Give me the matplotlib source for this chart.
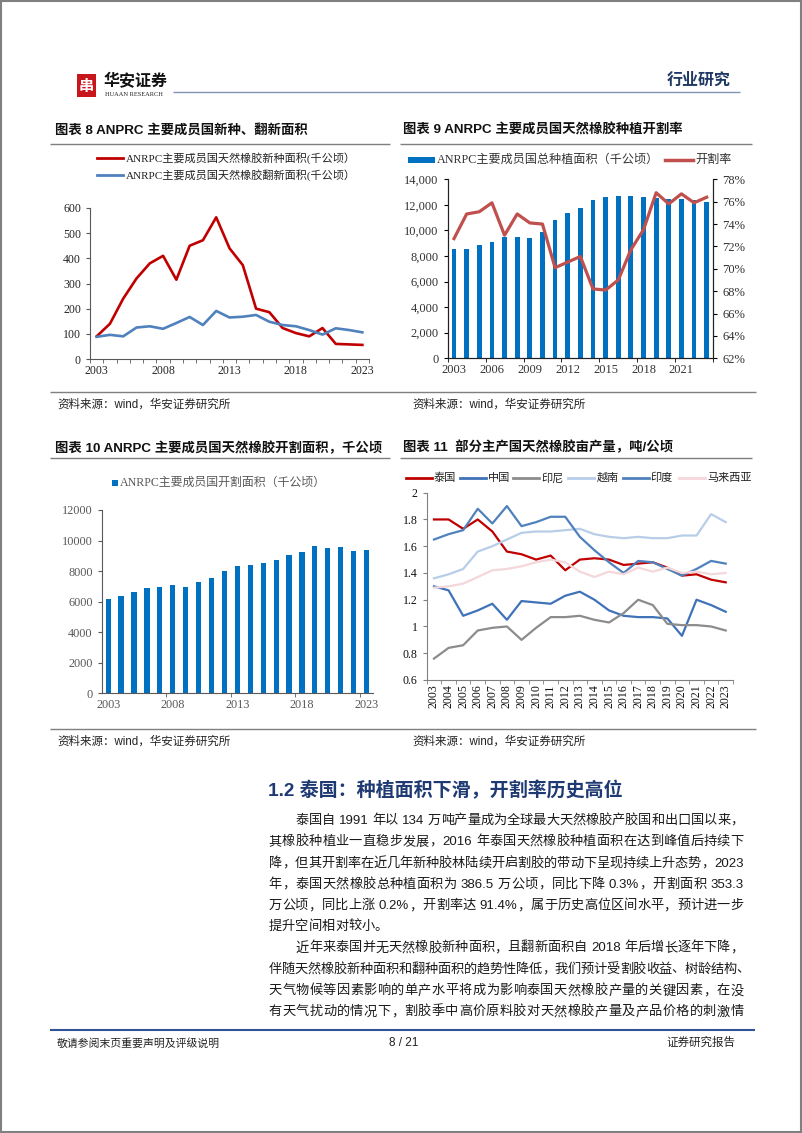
import matplotlib
matplotlib.use('Agg')
import matplotlib.pyplot as plt
import numpy as np
from matplotlib.patches import Rectangle
from matplotlib.ticker import FuncFormatter

plt.rcParams['font.family'] = ['Liberation Serif', 'Noto Sans CJK SC']
plt.rcParams['axes.unicode_minus'] = False

W, H = 802, 1133
SANS = ['Liberation Sans', 'Noto Sans CJK SC']
SERIF = ['Liberation Serif', 'Noto Sans CJK SC']

years = list(range(2003, 2024))

# 图表8 新种/翻新面积（千公顷）
new_area = [90, 140, 240, 320, 380, 410, 315, 450, 472, 563, 440, 373, 200,
            186, 123, 103, 90, 123, 60, 58, 56]
renew_area = [88, 96, 90, 125, 130, 120, 143, 167, 135, 191, 165, 168, 175,
              148, 135, 130, 115, 97, 122, 115, 106]

# 图表9 总种植面积（千公顷）与开割率（%）
total_area = [8520, 8550, 8840, 9120, 9510, 9460, 9410, 9880, 10820, 11340,
              11730, 12410, 12590, 12670, 12670, 12620, 12540, 12490, 12490,
              12380, 12250]
tap_rate = [72.7, 74.9, 75.1, 75.9, 73.0, 74.9, 74.1, 74.0, 70.1, 70.6, 71.1,
            68.2, 68.1, 69.0, 71.7, 73.5, 76.8, 75.8, 76.7, 75.9, 76.4]

# 图表10 开割面积（千公顷）
tapped_area = [6200, 6400, 6620, 6900, 6950, 7070, 6980, 7290, 7580, 8020,
               8330, 8430, 8560, 8720, 9060, 9250, 9630, 9480, 9560, 9290, 9350]

# 图表11 单产（吨/公顷）
countries = ['泰国', '中国', '印尼', '越南', '印度', '马来西亚']
yield_thailand = [1.80, 1.80, 1.73, 1.80, 1.71, 1.56, 1.54, 1.50, 1.53, 1.42,
                  1.50, 1.51, 1.50, 1.46, 1.47, 1.48, 1.44, 1.38, 1.39, 1.35, 1.33]
yield_china = [1.30, 1.27, 1.08, 1.12, 1.17, 1.05, 1.19, 1.18, 1.17, 1.23,
               1.26, 1.20, 1.12, 1.08, 1.07, 1.07, 1.06, 0.93, 1.20, 1.16, 1.11]
yield_indonesia = [0.76, 0.84, 0.86, 0.97, 0.99, 1.00, 0.90, 0.99, 1.07, 1.07,
                   1.08, 1.05, 1.03, 1.10, 1.20, 1.16, 1.02, 1.01, 1.01, 1.00, 0.97]
yield_vietnam = [1.36, 1.39, 1.43, 1.56, 1.60, 1.65, 1.70, 1.71, 1.71, 1.72,
                 1.73, 1.69, 1.67, 1.66, 1.67, 1.66, 1.66, 1.68, 1.68, 1.84, 1.78]
yield_india = [1.65, 1.69, 1.72, 1.88, 1.77, 1.90, 1.75, 1.78, 1.82, 1.82,
               1.67, 1.57, 1.48, 1.40, 1.49, 1.48, 1.43, 1.38, 1.43, 1.49, 1.47]
yield_malaysia = [1.29, 1.30, 1.32, 1.37, 1.42, 1.43, 1.45, 1.48, 1.50, 1.48,
                  1.41, 1.37, 1.41, 1.39, 1.44, 1.41, 1.44, 1.40, 1.41, 1.39, 1.40]
yield_series = [yield_thailand, yield_china, yield_indonesia, yield_vietnam,
                yield_india, yield_malaysia]
yield_colors = ['#C00000', '#3F72B8', '#8C8C8C', '#B7CDE8', '#4F81BD', '#F4D7DA']

fig = plt.figure(figsize=(W / 100, H / 100), dpi=100)
page = fig.add_axes([0, 0, 1, 1])
page.set_xlim(0, W)
page.set_ylim(H, 0)
page.axis('off')


def px_ax(x0, y0, x1, y1):
    return fig.add_axes([x0 / W, 1 - y1 / H, (x1 - x0) / W, (y1 - y0) / H])


def hline(x0, x1, y, color='#7F7F7F', lw=1.0):
    page.plot([x0, x1], [y, y], color=color, lw=lw, solid_capstyle='butt')


# ---- page frame / header ----
page.add_patch(Rectangle((0.8, 0.8), W - 1.6, H - 1.6, fill=False,
                         edgecolor='#808080', lw=1.5))
page.add_patch(Rectangle((77, 74), 19, 23, facecolor='#C8161D', edgecolor='none'))
page.text(86.5, 86, '串', color='white', fontsize=11, ha='center', va='center',
          family=['Noto Sans CJK SC'], weight='bold')
page.text(104, 81, '华安证券', fontsize=11.5, family=['Noto Sans CJK SC'],
          weight='bold', va='center', color='#111111')
page.text(105, 95, 'HUAAN RESEARCH', fontsize=4.6, family=SERIF, va='center',
          color='#222222')
hline(173, 740, 92, color='#8095B5', lw=1.0)
page.text(731, 80, '行业研究', fontsize=11.5, family=['Noto Sans CJK SC'],
          weight='bold', ha='right', va='center', color='#1F3864')

# ---- chart titles ----
title_kw = dict(fontsize=9.6, family=SANS, weight='bold', va='center', color='#111111')
page.text(55, 130, '图表 8 ANPRC 主要成员国新种、翻新面积', **title_kw)
page.text(403, 130, '图表 9 ANRPC 主要成员国天然橡胶种植开割率', **title_kw)
page.text(55, 448, '图表 10 ANRPC 主要成员国天然橡胶开割面积，千公顷', **title_kw)
page.text(403, 447, '图表 11  部分主产国天然橡胶亩产量，吨/公顷', **title_kw)
hline(50, 390, 143.5)
hline(400, 752, 143.5)
hline(50, 390, 457.5)
hline(400, 752, 457.5)

# ---- sources ----
src_kw = dict(fontsize=8.3, family=SANS, va='center', color='#222222')
hline(50, 756, 391.5)
hline(50, 756, 728.5)
for sx, sy in [(57, 405), (412, 405), (57, 742), (412, 742)]:
    page.text(sx, sy, '资料来源：wind，华安证券研究所', **src_kw)

x = np.arange(len(years))

# ---- 图表8 ----
ax8 = px_ax(90, 208, 369, 359)
ax8.plot(x, new_area, color='#C00000', lw=1.9, solid_joinstyle='round')
ax8.plot(x, renew_area, color='#4F81BD', lw=1.9, solid_joinstyle='round')
ax8.set_xlim(-0.5, len(years) - 0.5)
ax8.set_ylim(0, 600)
ax8.set_yticks(range(0, 601, 100))
ax8.set_xticks([0, 5, 10, 15, 20])
ax8.set_xticklabels([str(years[i]) for i in [0, 5, 10, 15, 20]])
ax8.set_xticks(np.arange(-0.5, len(years), 1), minor=True)
ax8.tick_params(axis='x', which='major', length=0, pad=4)
ax8.tick_params(axis='x', which='minor', length=3, color='#595959')
ax8.tick_params(axis='y', length=3, color='#595959')
ax8.tick_params(labelsize=8.6, labelcolor='#262626')
for s in ['top', 'right']:
    ax8.spines[s].set_visible(False)
for s in ['left', 'bottom']:
    ax8.spines[s].set_color('#595959')
    ax8.spines[s].set_linewidth(0.8)

leg_kw = dict(fontsize=8.0, family=SERIF, va='center', color='#222222')
page.plot([97, 123], [158, 158], color='#C00000', lw=2)
page.text(126, 158, 'ANRPC主要成员国天然橡胶新种面积(千公顷）', **leg_kw)
page.plot([97, 123], [175, 175], color='#4F81BD', lw=2)
page.text(126, 175, 'ANRPC主要成员国天然橡胶翻新面积(千公顷）', **leg_kw)

# ---- 图表9 ----
ax9 = px_ax(447.7, 179.3, 713, 358.3)
ax9.bar(x, total_area, width=0.38, color='#0070C0')
ax9.set_xlim(-0.5, len(years) - 0.5)
ax9.set_ylim(0, 14000)
ax9.set_yticks(range(0, 14001, 2000))
ax9.yaxis.set_major_formatter(FuncFormatter(lambda v, p: f'{int(v):,}'))
lab9 = list(range(0, len(years), 3))
ax9.set_xticks(lab9)
ax9.set_xticklabels([str(years[i]) for i in lab9])
ax9.set_xticks(np.arange(-0.5, len(years), 3), minor=True)
ax9.tick_params(axis='x', which='major', length=0, pad=4)
ax9.tick_params(axis='x', which='minor', length=3)
ax9.tick_params(axis='y', length=3)
ax9.tick_params(labelsize=9, labelcolor='#333333')
ax9r = ax9.twinx()
ax9r.plot(x, tap_rate, color='#C0504D', lw=2.3, solid_joinstyle='round')
ax9r.set_ylim(62, 78)
ax9r.set_yticks(range(62, 79, 2))
ax9r.set_yticklabels([f'{v}%' for v in range(62, 79, 2)])
ax9r.tick_params(axis='y', length=3, labelsize=9, labelcolor='#333333')
for a in (ax9, ax9r):
    a.spines['top'].set_visible(False)
    for s in ['left', 'right', 'bottom']:
        a.spines[s].set_color('#222222')
        a.spines[s].set_linewidth(0.8)

page.add_patch(Rectangle((408, 157), 27, 6, facecolor='#0070C0', edgecolor='none'))
page.text(437, 160, 'ANRPC主要成员国总种植面积（千公顷）', fontsize=8.7,
          family=SERIF, va='center', color='#333333')
page.plot([665, 693], [160, 160], color='#C0504D', lw=2.5)
page.text(695, 160, '开割率', fontsize=8.7, family=SERIF, va='center', color='#333333')

# ---- 图表10 ----
ax10 = px_ax(101.7, 510, 373, 693.3)
ax10.bar(x, tapped_area, width=0.4, color='#0070C0')
ax10.set_xlim(-0.5, len(years) - 0.5)
ax10.set_ylim(0, 12000)
ax10.set_yticks(range(0, 12001, 2000))
ax10.set_xticks([0, 5, 10, 15, 20])
ax10.set_xticklabels([str(years[i]) for i in [0, 5, 10, 15, 20]])
ax10.set_xticks(np.arange(4.5, len(years) - 1, 5), minor=True)
ax10.tick_params(axis='x', which='major', length=0, pad=4)
ax10.tick_params(axis='x', which='minor', length=3, color='#595959')
ax10.tick_params(axis='y', length=3, color='#595959')
ax10.tick_params(labelsize=8.8, labelcolor='#595959')
for s in ['top', 'right']:
    ax10.spines[s].set_visible(False)
for s in ['left', 'bottom']:
    ax10.spines[s].set_color('#595959')
    ax10.spines[s].set_linewidth(0.8)
page.add_patch(Rectangle((112, 480), 6, 6, facecolor='#0070C0', edgecolor='none'))
page.text(119.5, 483, 'ANRPC主要成员国开割面积（千公顷）', fontsize=8.6,
          family=SERIF, va='center', color='#595959')

# ---- 图表11 ----
ax11 = px_ax(426.7, 492.7, 733, 680)
for vals, col in zip(yield_series, yield_colors):
    ax11.plot(x, vals, color=col, lw=1.6, solid_joinstyle='round')
ax11.set_xlim(-0.5, len(years) - 0.5)
ax11.set_ylim(0.6, 2.0)
yt = [0.6, 0.8, 1.0, 1.2, 1.4, 1.6, 1.8, 2.0]
ax11.set_yticks(yt)
ax11.set_yticklabels([f'{v:g}' for v in yt])
ax11.set_xticks(x)
ax11.set_xticklabels([str(y) for y in years], rotation=90)
ax11.set_xticks(np.arange(-0.5, len(years), 1), minor=True)
ax11.tick_params(axis='x', which='major', length=0, pad=3)
ax11.tick_params(axis='x', which='minor', length=3, color='#808080')
ax11.tick_params(axis='y', length=3, color='#808080')
ax11.tick_params(labelsize=8.6, labelcolor='#111111')
for s in ['top', 'right']:
    ax11.spines[s].set_visible(False)
for s in ['left', 'bottom']:
    ax11.spines[s].set_color('#808080')
    ax11.spines[s].set_linewidth(0.8)

leg11_x = [406, 460, 513.3, 568.3, 622.7, 679]
for lx, name, col in zip(leg11_x, countries, yield_colors):
    page.plot([lx, lx + 26], [478, 478], color=col, lw=2)
    page.text(lx + 28, 478, name, fontsize=8, family=SERIF, va='center',
              color='#222222')

# ---- section text ----
page.text(268.5, 790, '1.2 泰国：种植面积下滑，开割率历史高位', fontsize=13.7,
          family=SANS, weight='bold', va='center', color='#1F3A73')

body = [
    (295.7, '泰国自 1991 年以 134 万吨产量成为全球最大天然橡胶产胶国和出口国以来，', True),
    (268.7, '其橡胶种植业一直稳步发展，2016 年泰国天然橡胶种植面积在达到峰值后持续下', True),
    (268.7, '降，但其开割率在近几年新种胶林陆续开启割胶的带动下呈现持续上升态势，2023', True),
    (268.7, '年，泰国天然橡胶总种植面积为 386.5 万公顷，同比下降 0.3%，开割面积 353.3', True),
    (268.7, '万公顷，同比上涨 0.2%，开割率达 91.4%，属于历史高位区间水平，预计进一步', True),
    (268.7, '提升空间相对较小。', False),
    (295.7, '近年来泰国并无天然橡胶新种面积，且翻新面积自 2018 年后增长逐年下降，', True),
    (268.7, '伴随天然橡胶新种面积和翻种面积的趋势性降低，我们预计受割胶收益、树龄结构、', True),
    (268.7, '天气物候等因素影响的单产水平将成为影响泰国天然橡胶产量的关键因素，在没', True),
    (268.7, '有天气扰动的情况下，割胶季中高价原料胶对天然橡胶产量及产品价格的刺激情', True),
]
body_y = [819, 840.4, 862, 883, 904.6, 925.5, 946.8, 968, 989.7, 1010.7]
body_fs = 9.5


def split_tokens(s):
    out, buf = [], ''
    for ch in s:
        if ch == ' ':
            if buf:
                out.append(buf)
                buf = ''
            out.append(' ')
        elif ord(ch) < 0x2E80:
            buf += ch
        else:
            if buf:
                out.append(buf)
                buf = ''
            out.append(ch)
    if buf:
        out.append(buf)
    return out


renderer = fig.canvas.get_renderer()
space_w = 0.278 * body_fs * 100 / 72
for (bx, line, just), by in zip(body, body_y):
    toks = split_tokens(line)
    items = []
    for t in toks:
        if t == ' ':
            items.append((None, space_w))
        else:
            tx = page.text(bx, by + 4.6, t, fontsize=body_fs, family=SANS,
                           va='baseline', color='#1A1A1A')
            items.append((tx, tx.get_window_extent(renderer).width))
    total = sum(w for _, w in items)
    right = 750 if line.endswith('、') else 743.5
    gap = (right - bx - total) / (len(items) - 1) if just else 0.0
    cx = bx
    for tx, w in items:
        if tx is not None:
            tx.set_x(cx)
        cx += w + gap

# ---- footer ----
hline(50, 755, 1030, color='#2F5597', lw=1.5)
page.text(57, 1043, '敬请参阅末页重要声明及评级说明', fontsize=7.8, family=SANS,
          va='center', color='#222222')
page.text(404, 1043, '8 / 21', fontsize=8.5, family=SANS, ha='center',
          va='center', color='#222222')
page.text(735, 1043, '证券研究报告', fontsize=8.3, family=SANS, ha='right',
          va='center', color='#222222')

fig.savefig('out.png', dpi=100)
